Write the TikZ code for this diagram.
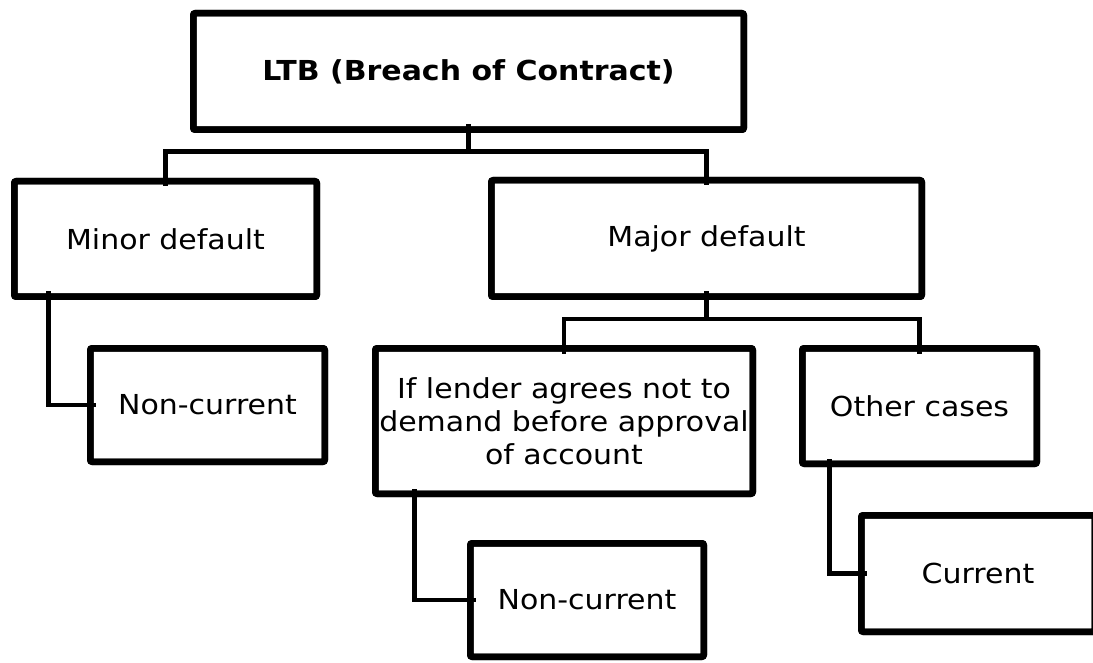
\documentclass[tikz,border=0pt]{standalone}
\usepackage{fontspec}
\setmainfont{DejaVu Sans}[FakeStretch=1.09]
\usetikzlibrary{calc,shadows}
\begin{document}
\begin{tikzpicture}[x=1pt,y=-1pt,
  box/.style={draw=black, line width=6.5pt, fill=white, rounded corners=2pt,
    inner sep=0pt, outer sep=0pt, align=center,
    font=\fontsize{27.5}{33}\selectfont,
    drop shadow={opacity=0.22, shadow xshift=2pt, shadow yshift=-3pt}},
  conn/.style={draw=black, line width=4.5pt, line cap=rect}]
\clip (0,0) rectangle (1093,663);
\fill[white] (0,0) rectangle (1093,663);
% connectors first (behind boxes)
\coordinate (tsouth) at (468.5,133);
\coordinate (msouth) at (706.5,300);
\node[box, minimum width=550.5pt, minimum height=116.5pt] (top) at (468.5,71.5) {\textbf{LTB (Breach of Contract)}};
\node[box, minimum width=302.5pt, minimum height=115.5pt] (minor) at (165.5,239) {Minor default};
\node[box, minimum width=430.5pt, minimum height=116.5pt] (major) at (706.5,238.5) {Major default};
\node[box, minimum width=234.5pt, minimum height=113.5pt] (nc1) at (207.5,405) {Non-current};
\node[box, minimum width=377.5pt, minimum height=145.5pt] (lender) at (564,421) {If lender agrees not to\\demand before approval\\of account};
\node[box, minimum width=234.5pt, minimum height=115.5pt] (other) at (919.5,406) {Other cases};
\node[box, minimum width=233.5pt, minimum height=113.5pt] (nc2) at (587,600) {Non-current};
\node[box, minimum width=233.5pt, minimum height=116.5pt] (current) at (978,573.5) {Current};
\begin{scope}[on background layer/.try]
\end{scope}
\draw[conn] ($(top.south)+(0,-3)$) -- ++(0,25) -| ($(minor.north)+(0,3)$);
\draw[conn] ($(top.south)+(0,22)$) -| ($(major.north)+(0,3)$);
\draw[conn] ($(major.south)+(0,-3)$) -- ++(0,25) -| ($(lender.north)+(0,3)$);
\draw[conn] ($(major.south)+(0,22)$) -| ($(other.north)+(0,3)$);
\draw[conn] ($(minor.south west)+(34,-3)$) |- ($(nc1.west)+(3,0)$);
\draw[conn] ($(lender.south west)+(39,-3)$) |- ($(nc2.west)+(3,0)$);
\draw[conn] ($(other.south west)+(27,-3)$) |- ($(current.west)+(3,0)$);
% redraw box borders over connector ends
\foreach \n in {top,minor,major,nc1,lender,other,nc2,current}{
  \draw[line width=6.5pt, rounded corners=2pt] (\n.north west) rectangle (\n.south east);
}
\end{tikzpicture}
\end{document}
